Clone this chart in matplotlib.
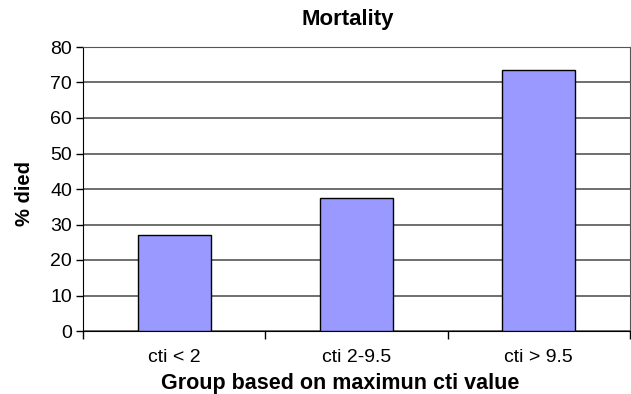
import matplotlib
matplotlib.use("Agg")
import matplotlib.pyplot as plt
import numpy as np

categories = ["cti < 2", "cti 2-9.5", "cti > 9.5"]
values = [27.0, 37.5, 73.5]

plt.rcParams['font.family'] = ['Liberation Sans', 'DejaVu Sans']

fig = plt.figure(figsize=(6.31, 3.94), dpi=100)
ax = fig.add_axes([83/631, 1-331/394, (630-83)/631, (331-47)/394])

x = np.arange(len(categories))
ax.bar(x, values, width=0.4, color="#9999FF", edgecolor="black", linewidth=1, zorder=3)

ax.set_xlim(-0.5, len(categories) - 0.5)
ax.set_ylim(0, 80)
ax.set_yticks(np.arange(0, 81, 10))
ax.yaxis.grid(True, color="#555555", linewidth=1.2, zorder=0)
ax.set_axisbelow(True)

ax.set_xticks(np.arange(-0.5, len(categories), 1.0))
ax.set_xticklabels([])
ax.set_xticks(x, minor=True)
ax.set_xticklabels(categories, minor=True)
ax.tick_params(axis="x", which="minor", length=0, labelsize=14, pad=13)
ax.tick_params(axis="x", which="major", length=6, width=1, direction="out")
ax.tick_params(axis="y", length=5, width=1, direction="out", labelsize=14, pad=3)

for s in ["top", "right"]:
    ax.spines[s].set_color("#555555")
ax.spines["left"].set_color("black")
ax.spines["bottom"].set_color("black")

fig.text(348/631, 1-20/394, "Mortality", fontsize=16, fontweight="bold", ha="center", va="center")
fig.text(340/631, 1-384/394, "Group based on maximun cti value", fontsize=15.5, fontweight="bold", ha="center", va="center")
fig.text(25/631, 1-193/394, "% died", fontsize=14.5, fontweight="bold", ha="center", va="center", rotation=90)

fig.savefig("out.png", dpi=100)
